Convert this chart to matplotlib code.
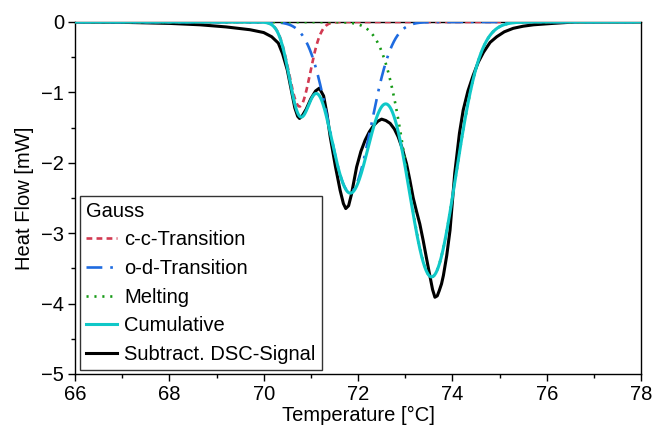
import numpy as np
import matplotlib.pyplot as plt

plt.rcParams['font.family'] = ['Liberation Sans', 'DejaVu Sans']

# Gauss fit parameters: centre [°C], depth [mW], sigma [°C]
peak_names = ['c-c-Transition', 'o-d-Transition', 'Melting']
peak_centre = [70.76, 71.83, 73.56]
peak_depth = [-1.20, -2.42, -3.62]
peak_sigma = [0.224, 0.447, 0.51]

# measured (baseline-subtracted) DSC signal
dsc_T = [66.0, 67.0, 68.0, 68.65, 69.2, 69.71, 70.0, 70.17, 70.31, 70.4,
         70.5, 70.58, 70.66, 70.72, 70.76, 70.82, 70.9, 71.0, 71.1, 71.18,
         71.27, 71.34, 71.41, 71.52, 71.62, 71.69, 71.74, 71.8, 71.86, 71.97,
         72.06, 72.15, 72.24, 72.33, 72.42, 72.5, 72.59, 72.68, 72.77, 72.85,
         72.94, 73.03, 73.1, 73.17, 73.24, 73.31, 73.38, 73.45, 73.53, 73.58,
         73.63, 73.68, 73.72, 73.77, 73.81, 73.88, 73.95, 74.05, 74.15, 74.23,
         74.33, 74.44, 74.55, 74.66, 74.8, 74.94, 75.1, 75.29, 75.5, 75.72,
         76.13, 76.6, 77.0, 78.0]
dsc_Q = [0.0, -0.005, -0.02, -0.04, -0.07, -0.11, -0.15, -0.21, -0.30, -0.45,
         -0.68, -0.95, -1.22, -1.34, -1.37, -1.33, -1.24, -1.09, -0.98, -0.94,
         -1.05, -1.30, -1.63, -2.05, -2.39, -2.58, -2.65, -2.61, -2.45, -2.06,
         -1.84, -1.68, -1.56, -1.47, -1.41, -1.38, -1.40, -1.44, -1.52, -1.63,
         -1.80, -2.02, -2.25, -2.50, -2.69, -2.87, -3.10, -3.35, -3.63, -3.80,
         -3.91, -3.89, -3.82, -3.72, -3.60, -3.32, -2.96, -2.15, -1.58, -1.25,
         -0.98, -0.76, -0.57, -0.43, -0.29, -0.21, -0.14, -0.09, -0.06, -0.04,
         -0.02, 0.0, 0.0, 0.0]

T = np.linspace(66, 78, 1201)
peaks = [a * np.exp(-(T - c) ** 2 / (2 * s ** 2))
         for c, a, s in zip(peak_centre, peak_depth, peak_sigma)]
cumulative = np.sum(peaks, axis=0)

fig = plt.figure(figsize=(6.54, 4.37), dpi=100)
ax = fig.add_axes([0.1147, 0.1442, 0.8655, 0.8055])

dsc, = ax.plot(dsc_T, dsc_Q, color='black', lw=2.2, zorder=2, label='Subtract. DSC-Signal')
styles = [dict(color='#d23a52', ls=(0, (2.2, 1.6))),
          dict(color='#1e6be0', ls=(0, (6, 3, 1, 3))),
          dict(color='#159a15', ls=(0, (0.8, 2.2)))]
lines = []
for y, name, st in zip(peaks, peak_names, styles):
    l, = ax.plot(T, y, lw=1.9, zorder=3, label=name, **st)
    lines.append(l)
cum, = ax.plot(T, cumulative, color='#10c8c8', lw=2.2, zorder=4, label='Cumulative')

ax.set_xlim(66, 78)
ax.set_ylim(-5, 0)
ax.set_xticks(np.arange(66, 79, 2))
ax.set_xticks(np.arange(67, 78, 2), minor=True)
ax.set_yticks(np.arange(-5, 0.1, 1))
ax.set_yticks(np.arange(-4.5, 0, 1), minor=True)
ax.set_yticklabels(['\u22125', '\u22124', '\u22123', '\u22122', '\u22121', '0'])
ax.tick_params(which='both', direction='out', labelsize=14.5, width=1, top=False, right=False)
ax.tick_params(which='major', length=5, pad=3)
ax.tick_params(which='minor', length=3)
for sp in ax.spines.values():
    sp.set_linewidth(1.0)

ax.set_xlabel('Temperature [°C]', fontsize=14.5, labelpad=1)
ax.set_ylabel('Heat Flow [mW]', fontsize=14.5, labelpad=5)

leg = ax.legend(handles=lines + [cum, dsc], title='Gauss', loc='lower left',
                bbox_to_anchor=(0.009, 0.011), borderaxespad=0, fontsize=14.5,
                title_fontsize=14.5, frameon=True, fancybox=False, edgecolor='black',
                handlelength=1.55, handletextpad=0.35, labelspacing=0.48,
                borderpad=0.3)
leg._legend_box.align = 'left'
leg.get_frame().set_linewidth(1.0)

fig.savefig('out.png', dpi=100)
